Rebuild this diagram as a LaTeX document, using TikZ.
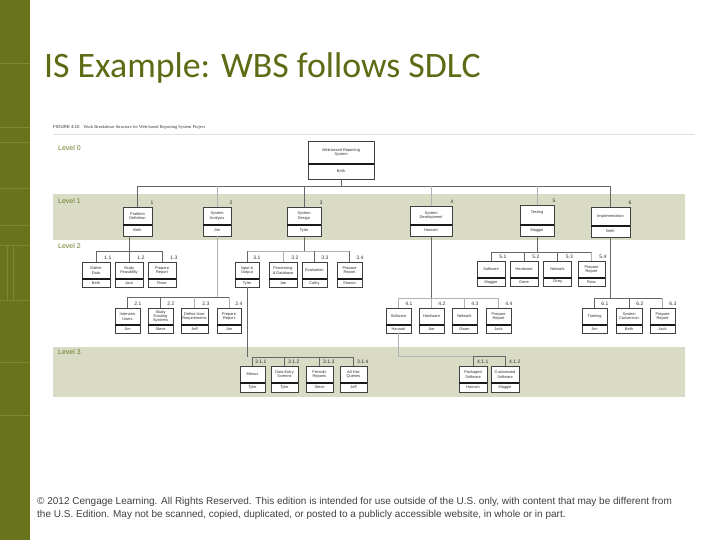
\documentclass[tikz,border=0pt]{standalone}
\usepackage{fontspec}
\setmainfont{Liberation Sans}
\newfontfamily\titlefont{Carlito}
\newfontfamily\capserif{Liberation Serif}
\usetikzlibrary{calc}
\definecolor{olivebar}{RGB}{104,115,28}
\definecolor{olivebarline}{RGB}{124,136,52}
\definecolor{olivetitle}{RGB}{94,106,20}
\definecolor{levelgreen}{RGB}{110,124,40}
\definecolor{bandcol}{RGB}{217,219,197}
\definecolor{boxtext}{RGB}{50,50,50}
\definecolor{foottext}{RGB}{64,64,64}
\tikzset{
  wbsframe/.style={draw=black!75, line width=0.6pt, fill=white, inner sep=0pt, outer sep=0pt, rectangle},
  wbsdiv/.style={draw=black!90, line width=1.2pt},
  wbstxt/.style={inner sep=0pt, align=center, text=boxtext, font=\fontsize{3.9}{4.3}\selectfont},
  wbsnum/.style={inner sep=0pt, text=boxtext, font=\fontsize{5}{5}\selectfont},
  levellab/.style={inner sep=0pt, anchor=west, text=levelgreen, font=\fontsize{7}{7}\selectfont},
  conn/.style={draw=black!60, line width=0.7pt},
  connf/.style={draw=black!30, line width=0.6pt},
  barline/.style={draw=olivebarline, line width=0.5pt}
}
\newcommand{\wbsbox}[9]{%
  \node[wbsframe, minimum width=#4pt, minimum height=#5pt, anchor=north] (#1) at (#2,#3) {};
  \draw[wbsdiv] ([yshift=-#6pt]#1.north west) -- ([yshift=-#6pt]#1.north east);
  \node[wbstxt] (#1-t) at ($(#1.north)!0.5!([yshift=-#6pt]#1.north)$) {#7};
  \node[wbstxt] (#1-p) at ($(#1.south)!0.5!([yshift=-#6pt]#1.north)$) {#8};
  \node[wbsnum, anchor=south east] (#1-n) at ([xshift=1.5pt,yshift=2pt]#1.north east) {#9};
}
\begin{document}
\begin{tikzpicture}[x=1pt,y=-1pt]
\useasboundingbox (0,0) rectangle (720,540);
\fill[white] (0,0) rectangle (720,540);
% left bar
\fill[olivebar] (0,0) rectangle (30,540);
\foreach \yy in {63,127,142,188,225,245,300,362,415} \draw[barline] (0,\yy) -- (30,\yy);
\draw[barline] (7,245) -- (7,300);
\draw[barline] (13,245) -- (13,300);
% title
\node[inner sep=0pt, anchor=base west, text=olivetitle, font=\titlefont\fontsize{35.8}{36}\selectfont] (title) at (44,78) {IS Example: WBS follows SDLC};
% caption
\node[inner sep=0pt, anchor=west, font=\fontsize{4.4}{4.4}\selectfont] (cap) at (53,127) {{\bfseries\color{black!55}FIGURE 4.10}\hspace{4pt}{\capserif\color{black!80}Work Breakdown Structure for Web-based Reporting System Project}};
\draw[draw=black!12, line width=0.6pt] (53,134) -- (695,134);
% bands
\fill[bandcol] (53,194) rectangle (685,240);
\fill[bandcol] (53,347) rectangle (685,397);
\node[levellab] (l0) at (58,148) {Level 0};
\node[levellab] (l1) at (58,201) {Level 1};
\node[levellab] (l2) at (58,246) {Level 2};
\node[levellab] (l3) at (58,352) {Level 3};
% level 0
\wbsbox{root}{341}{141}{66}{38}{23}{Web-based Reporting\\System}{Beth}{}
% level 1
\wbsbox{b1}{137.5}{207}{29}{29}{18}{Problem\\Definition}{Beth}{1}
\wbsbox{b2}{217}{207}{28}{29}{18}{System\\Analysis}{Jim}{2}
\wbsbox{b3}{304}{207}{34}{29}{18}{System\\Design}{Tyler}{3}
\wbsbox{b4}{431}{206}{42}{30}{19}{System\\Development}{Hannah}{4}
\wbsbox{b5}{537}{205}{34}{31}{20}{Testing\\\strut}{Maggie}{5}
\wbsbox{b6}{610.5}{207}{39}{30}{19}{Implementation}{Beth}{6}
% level 2 row A
\wbsbox{c11}{96}{262}{28}{25}{17}{Gather\\Data}{Beth}{1.1}
\wbsbox{c12}{129}{262}{28}{25}{17}{Study\\Feasibility}{Jack}{1.2}
\wbsbox{c13}{162}{262}{28}{25}{17}{Prepare\\Report}{Rose}{1.3}
\wbsbox{c31}{247}{262}{24}{25}{17}{Input \&\\Output}{Tyler}{3.1}
\wbsbox{c32}{283}{262}{28}{25}{17}{Processing\\\& Database}{Joe}{3.2}
\wbsbox{c33}{314.5}{262}{25}{25}{17}{Evaluation}{Cathy}{3.3}
\wbsbox{c34}{349.5}{262}{25}{25}{17}{Prepare\\Report}{Sharon}{3.4}
\wbsbox{c51}{491}{261}{28}{25}{17}{Software}{Maggie}{5.1}
\wbsbox{c52}{524}{261}{28}{25}{17}{Hardware}{Gene}{5.2}
\wbsbox{c53}{557.5}{261}{28}{25}{17}{Network}{Greg}{5.3}
\wbsbox{c54}{591.5}{261}{27}{25}{17}{Prepare\\Report}{Ross}{5.4}
% level 2 row B
\wbsbox{c21}{127.5}{308}{25}{25}{17}{Interview\\Users}{Jim}{2.1}
\wbsbox{c22}{160.5}{308}{25}{25}{17}{Study\\Existing\\Systems}{Steve}{2.2}
\wbsbox{c23}{194.5}{308}{27}{25}{17}{Define User\\Requirements}{Jeff}{2.3}
\wbsbox{c24}{229}{308}{24}{25}{17}{Prepare\\Report}{Jim}{2.4}
\wbsbox{c41}{398.5}{308}{25}{25}{17}{Software}{Hannah}{4.1}
\wbsbox{c42}{431.5}{308}{25}{25}{17}{Hardware}{Joe}{4.2}
\wbsbox{c43}{464.5}{308}{25}{25}{17}{Network}{Gwen}{4.3}
\wbsbox{c44}{498.5}{308}{25}{25}{17}{Prepare\\Report}{Jack}{4.4}
\wbsbox{c61}{594.5}{308}{25}{25}{17}{Training}{Jim}{6.1}
\wbsbox{c62}{629}{308}{26}{25}{17}{System\\Conversion}{Beth}{6.2}
\wbsbox{c63}{662.5}{308}{25}{25}{17}{Prepare\\Report}{Jack}{6.3}
% level 3
\wbsbox{d311}{252.5}{366}{25}{26}{17}{Menus}{Tyler}{3.1.1}
\wbsbox{d312}{284.5}{366}{27}{26}{17}{Data Entry\\Screens}{Tyler}{3.1.2}
\wbsbox{d313}{319.5}{366}{27}{26}{17}{Periodic\\Reports}{Steve}{3.1.3}
\wbsbox{d314}{353.5}{366}{27}{26}{17}{Ad Hoc\\Queries}{Jeff}{3.1.4}
\wbsbox{d411}{473}{366}{28}{26}{17}{Packaged\\Software}{Hannah}{4.1.1}
\wbsbox{d412}{505}{366}{28}{26}{17}{Customized\\Software}{Maggie}{4.1.2}
% connectors level 0 -> 1
\coordinate (bus0) at (0,186);
\draw[conn] (root.south) -- (root.south |- bus0);
\draw[conn] (bus0 -| b1.north) -- (bus0 -| b6.north);
\foreach \n in {b1,b3,b6} \draw[conn] (bus0 -| \n.north) -- (\n.north);
\foreach \n in {b2,b4,b5} \draw[connf] (bus0 -| \n.north) -- (\n.north);
% 1 -> 1.x
\coordinate (bus1) at (0,251);
\draw[conn] (b1.south -| c12.north) -- (c12.north);
\draw[conn] (c11.north |- bus1) -- (c13.north |- bus1);
\foreach \n in {c11,c13} \draw[conn] (\n.north |- bus1) -- (\n.north);
% 2 -> 2.x
\coordinate (bus2) at (0,297);
\draw[connf] (b2.south) -- (b2.south |- bus2);
\draw[conn] (c21.north |- bus2) -- (c24.north |- bus2);
\foreach \n in {c21,c22} \draw[conn] (\n.north |- bus2) -- (\n.north);
\foreach \n in {c23,c24} \draw[connf] (\n.north |- bus2) -- (\n.north);
% 3 -> 3.x
\coordinate (bus3) at (0,251);
\draw[conn] (b3.south) -- (b3.south |- bus3);
\draw[connf] (c31.north |- bus3) -- (c34.north |- bus3);
\foreach \n in {c31,c33,c34} \draw[conn] (\n.north |- bus3) -- (\n.north);
\draw[connf] (c32.north |- bus3) -- (c32.north);
% 4 -> 4.x
\coordinate (bus4) at (0,298);
\draw[conn] (b4.south) -- (b4.south |- bus4);
\draw[connf] (c41.north |- bus4) -- (c44.north |- bus4);
\foreach \n in {c41,c42,c43,c44} \draw[connf] (\n.north |- bus4) -- (\n.north);
% 5 -> 5.x
\coordinate (bus5) at (0,252);
\draw[conn] (b5.south) -- (b5.south |- bus5);
\draw[conn] (c51.north |- bus5) -- (c54.north |- bus5);
\foreach \n in {c51,c52,c53} \draw[conn] (\n.north |- bus5) -- (\n.north);
\draw[connf] (c54.north |- bus5) -- (c54.north);
% 6 -> 6.x
\coordinate (bus6) at (0,298);
\draw[conn] (b6.south) -- (b6.south |- bus6);
\draw[conn] (c61.north |- bus6) -- (c63.north |- bus6);
\foreach \n in {c61,c62} \draw[conn] (\n.north |- bus6) -- (\n.north);
\draw[connf] (c63.north |- bus6) -- (c63.north);
% 3.1 -> 3.1.x
\coordinate (bus31) at (0,357);
\draw[conn] (c31.south) -- (c31.south |- bus31);
\draw[conn] (d311.north |- bus31) -- (d314.north |- bus31);
\foreach \n in {d311,d312,d313,d314} \draw[conn] (\n.north |- bus31) -- (\n.north);
% 4.1 -> 4.1.x
\coordinate (bus41) at (0,356);
\draw[connf] (c41.south) -- (c41.south |- bus41) -- (d411.north |- bus41);
\draw[conn] (d411.north |- bus41) -- (d412.north |- bus41);
\foreach \n in {d411,d412} \draw[conn] (\n.north |- bus41) -- (\n.north);
% footer
\node[inner sep=0pt, anchor=north west, align=left, text=foottext, font=\fontsize{10}{13}\selectfont] (foot) at (37,497) {\textcopyright{} 2012 Cengage Learning. All Rights Reserved. This edition is intended for use outside of the U.S. only, with content that may be different from\\the U.S. Edition. May not be scanned, copied, duplicated, or posted to a publicly accessible website, in whole or in part.};
\end{tikzpicture}
\end{document}
